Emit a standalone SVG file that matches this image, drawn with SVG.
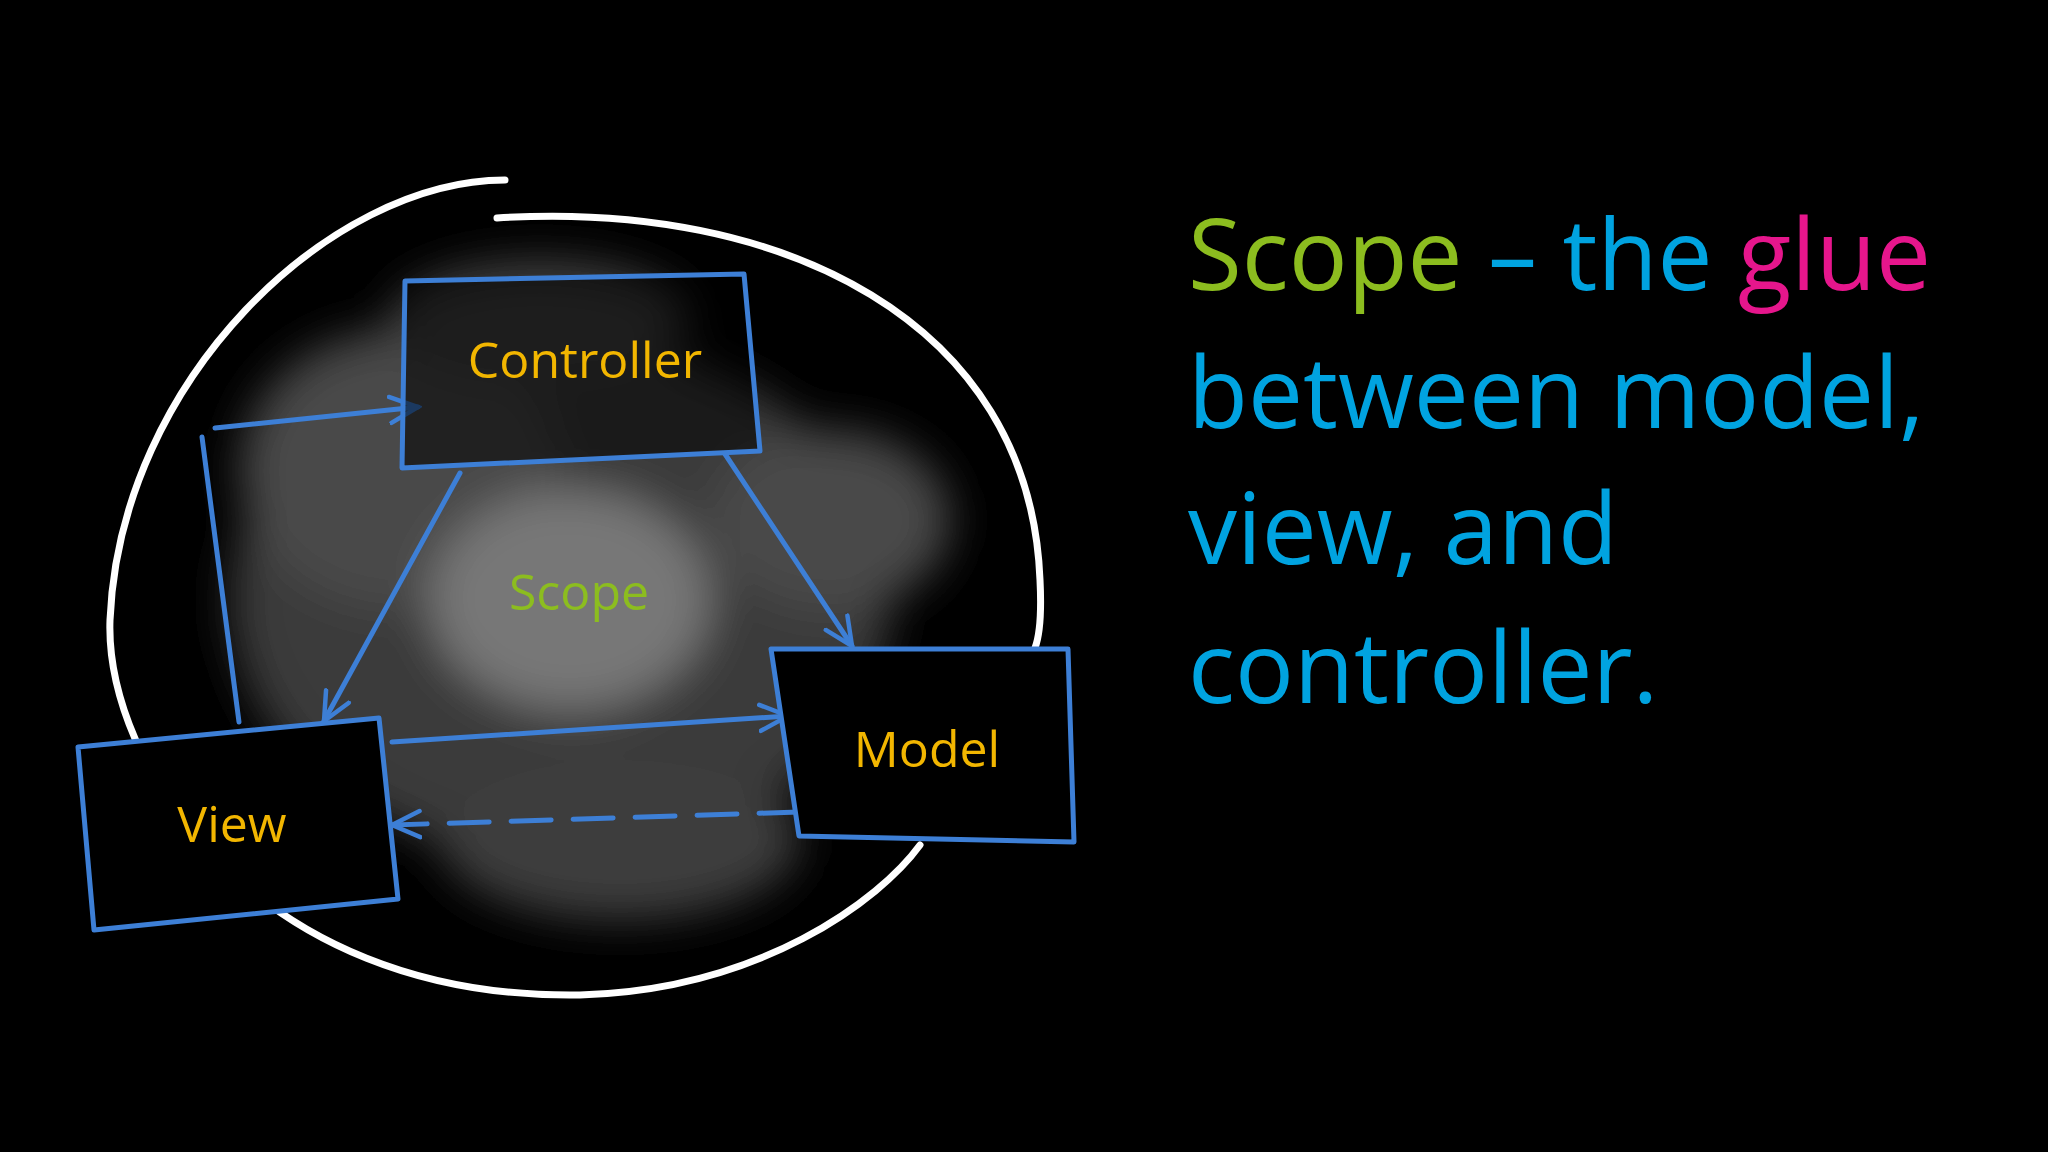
<svg xmlns="http://www.w3.org/2000/svg" width="2048" height="1152" viewBox="0 0 2048 1152">
<defs>
<filter id="blur" x="-50%" y="-50%" width="200%" height="200%"><feGaussianBlur stdDeviation="22"/></filter>
<marker id="ah" markerWidth="34" markerHeight="34" refX="30" refY="17" orient="auto" markerUnits="userSpaceOnUse" viewBox="0 0 34 34"><path d="M2,4 L30,17 L2,30" fill="none" stroke="#3d7fd6" stroke-width="4.5" stroke-linecap="round"/></marker>
</defs>
<style>
.box{fill:#000;stroke:#3d7fd6;stroke-width:5;stroke-linejoin:round}
.ln{fill:none;stroke:#3d7fd6;stroke-width:5;stroke-linecap:round}
.lbl{font-family:"Open Sans","Liberation Sans",sans-serif;font-size:50px;fill:#f2b600;text-anchor:middle}
.big{font-family:"Open Sans","Liberation Sans",sans-serif;font-size:98px;fill:#00a3e0}
</style>
<rect width="2048" height="1152" fill="#000"/>
<g id="cloud" filter="url(#blur)" fill="#555">
<ellipse cx="560" cy="600" rx="330" ry="260" fill="#3a3a3a"/>
<ellipse cx="400" cy="470" rx="160" ry="140" fill="#4a4a4a"/>
<ellipse cx="830" cy="520" rx="120" ry="90" fill="#4a4a4a"/>
<ellipse cx="570" cy="600" rx="140" ry="110" fill="#777"/>
<ellipse cx="620" cy="840" rx="180" ry="80" fill="#3e3e3e"/>
<ellipse cx="540" cy="320" rx="150" ry="60" fill="#404040"/>
</g>
<g id="circle" fill="none" stroke="#fff" stroke-width="7" stroke-linecap="round">
<path d="M505,180 C330,180 120,380 110,620 C105,760 250,1000 580,995 C760,990 880,900 920,845"/>
<path d="M497,218 C780,200 1030,320 1040,580 C1042,620 1038,640 1035,648"/>
</g>
<g id="connectors">
<path class="ln" d="M202,437 L239,722"/>
<path class="ln" d="M215,428 L418,407" marker-end="url(#ah)"/>
<path class="ln" d="M460,473 L324,721" marker-end="url(#ah)"/>
<path class="ln" d="M725,454 L852,646" marker-end="url(#ah)"/>
<path class="ln" d="M392,742 L788,716" marker-end="url(#ah)"/>
<path class="ln" d="M799,812 L392,825" stroke-dasharray="40,22" marker-end="url(#ah)"/>
</g>
<g id="controller">
<path class="box" style="fill:#000;fill-opacity:0.55" d="M405,281 L744,274 L760,451 L402,468 Z"/>
<text class="lbl" x="585" y="378">Controller</text>
</g>
<g id="view">
<path class="box" d="M78,747 L379,718 L398,899 L94,930 Z"/>
<text class="lbl" x="232" y="842">View</text>
</g>
<g id="model">
<path class="box" d="M771,649 L1068,649 L1074,842 L799,836 Z"/>
<text class="lbl" x="927" y="767">Model</text>
</g>
<g id="scope">
<text class="lbl" x="579" y="610" style="fill:#8cbd1f">Scope</text>
</g>
<g id="title">
<text class="big" x="1188" y="290"><tspan fill="#8cbd1f">Scope</tspan> – the <tspan fill="#e6168c">glue</tspan></text>
<text class="big" x="1188" y="428">between model,</text>
<text class="big" x="1188" y="564">view, and</text>
<text class="big" x="1188" y="703">controller.</text>
</g>
</svg>
